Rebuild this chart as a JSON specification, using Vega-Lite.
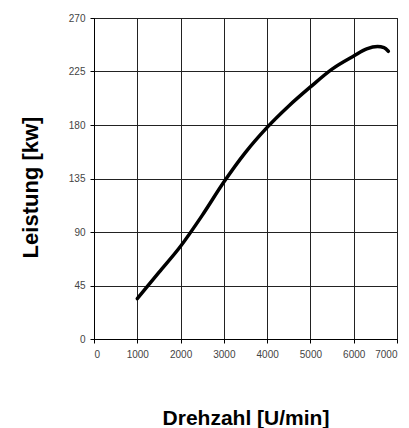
{
  "$schema": "https://vega.github.io/schema/vega-lite/v6.json",
  "width": 303,
  "height": 321,
  "autosize": "none",
  "padding": {"left": 94, "top": 18, "right": 12, "bottom": 89},
  "background": "white",
  "config": {
    "view": {"stroke": "#000", "strokeWidth": 1},
    "font": "Liberation Sans"
  },
  "data": {
    "values": [
      {"rpm": 1000, "kw": 34},
      {"rpm": 1500, "kw": 56},
      {"rpm": 2000, "kw": 78},
      {"rpm": 2500, "kw": 104},
      {"rpm": 3000, "kw": 132},
      {"rpm": 3500, "kw": 157},
      {"rpm": 4000, "kw": 178},
      {"rpm": 4500, "kw": 196},
      {"rpm": 5000, "kw": 212},
      {"rpm": 5500, "kw": 227},
      {"rpm": 6000, "kw": 238},
      {"rpm": 6300, "kw": 244},
      {"rpm": 6550, "kw": 246},
      {"rpm": 6700, "kw": 245},
      {"rpm": 6800, "kw": 242}
    ]
  },
  "mark": {"type": "line", "color": "#000", "strokeWidth": 3.5, "interpolate": "monotone", "strokeCap": "round"},
  "encoding": {
    "x": {
      "field": "rpm", "type": "quantitative",
      "scale": {"domain": [0, 7000], "nice": false},
      "axis": {
        "values": [0, 1000, 2000, 3000, 4000, 5000, 6000, 7000],
        "title": "Drehzahl [U/min]",
        "titleFont": "Liberation Sans", "titleFontWeight": "bold", "titleFontSize": 21, "titleColor": "#000",
        "titleY": 85, "titleBaseline": "alphabetic",
        "labelFontSize": 10, "labelColor": "#444", "labelPadding": 6,
        "tickSize": 4, "tickColor": "#000", "domainColor": "#000",
        "grid": true, "gridColor": "#222", "gridOpacity": 1, "gridWidth": 1,
        "format": "d"
      }
    },
    "y": {
      "field": "kw", "type": "quantitative",
      "scale": {"domain": [0, 270], "nice": false},
      "axis": {
        "values": [0, 45, 90, 135, 180, 225, 270],
        "title": "Leistung [kw]",
        "titleFont": "Liberation Sans", "titleFontWeight": "bold", "titleFontSize": 22, "titleColor": "#000",
        "titleX": -64, "titleY": 169, "titleBaseline": "middle", "titleAngle": -90,
        "labelFontSize": 10, "labelColor": "#444", "labelPadding": 5,
        "tickSize": 4, "tickColor": "#000", "domainColor": "#000",
        "grid": true, "gridColor": "#222", "gridOpacity": 1, "gridWidth": 1
      }
    }
  }
}
